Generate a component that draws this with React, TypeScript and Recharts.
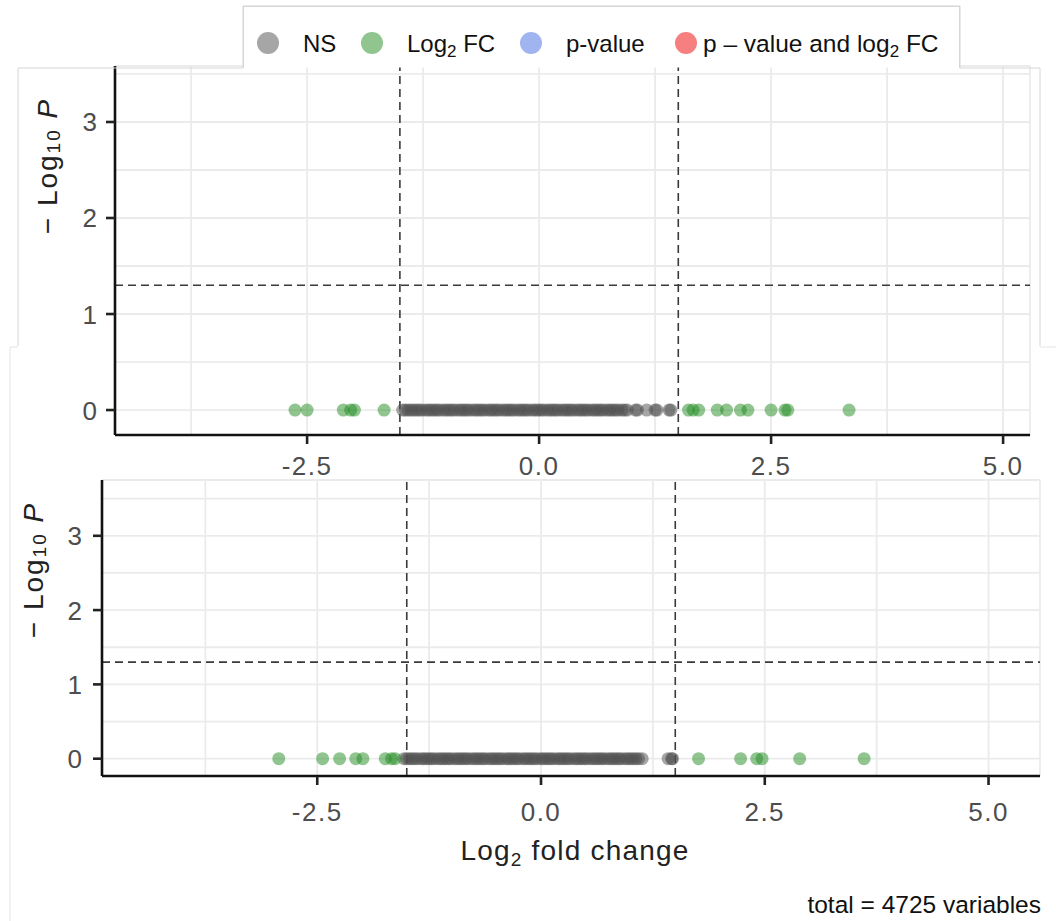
import React from "react";
import { ScatterChart, Scatter, XAxis, YAxis, CartesianGrid, ReferenceLine } from "recharts";

// ---------- data ----------
// axis breaks (major ones get labels, minor ones only grid lines)
const xBreaks = [-3.75, -2.5, -1.25, 0, 1.25, 2.5, 3.75, 5];
const xLabelled = [-2.5, 0, 2.5, 5];
const yBreaks = [0, 0.5, 1, 1.5, 2, 2.5, 3, 3.5];
const yLabelled = [0, 1, 2, 3];
const fcCutoff = 1.5;
const pCutoffLog = 1.3; // -log10(0.05)

// all variables have p ~ 1 -> -log10 P = 0
const logPValue = 0;

// top panel: log2 fold changes
const topNsFC = [
  -1.47, -1.44, -1.41, -1.38, -1.35, -1.32, -1.29, -1.26, -1.22, -1.19, -1.16, -1.13,
  -1.10, -1.07, -1.03, -1.0, -0.97, -0.94, -0.91, -0.87, -0.84, -0.81, -0.78, -0.75,
  -0.71, -0.68, -0.65, -0.62, -0.59, -0.55, -0.52, -0.49, -0.46, -0.43, -0.39, -0.36,
  -0.33, -0.3, -0.27, -0.23, -0.2, -0.17, -0.14, -0.11, -0.07, -0.04, -0.01, 0.02,
  0.05, 0.09, 0.12, 0.15, 0.18, 0.21, 0.25, 0.28, 0.31, 0.34, 0.37, 0.41, 0.44, 0.47,
  0.5, 0.53, 0.57, 0.6, 0.63, 0.66, 0.69, 0.73, 0.76, 0.79, 0.82, 0.85, 0.89, 0.92,
  0.95, 1.04, 1.06, 1.16, 1.25, 1.27, 1.4, 1.42,
];
const topFcFC = [
  -2.63, -2.5, -2.11, -2.03, -1.99, -1.67, 1.61, 1.66, 1.72, 1.92, 2.02, 2.17, 2.25,
  2.5, 2.65, 2.68, 3.34,
];

// bottom panel: log2 fold changes
const bottomNsFC = [
  -1.53, -1.5, -1.47, -1.44, -1.41, -1.38, -1.34, -1.31, -1.28, -1.25, -1.22, -1.19,
  -1.15, -1.12, -1.09, -1.06, -1.03, -1.0, -0.96, -0.93, -0.9, -0.87, -0.84, -0.81,
  -0.77, -0.74, -0.71, -0.68, -0.65, -0.62, -0.58, -0.55, -0.52, -0.49, -0.46, -0.43,
  -0.39, -0.36, -0.33, -0.3, -0.27, -0.24, -0.2, -0.17, -0.14, -0.11, -0.08, -0.05,
  -0.01, 0.02, 0.05, 0.08, 0.11, 0.14, 0.18, 0.21, 0.24, 0.27, 0.3, 0.33, 0.37, 0.4,
  0.43, 0.46, 0.49, 0.52, 0.56, 0.59, 0.62, 0.65, 0.68, 0.71, 0.75, 0.78, 0.81, 0.84,
  0.87, 0.9, 0.94, 0.97, 1.0, 1.03, 1.06, 1.09, 1.13, 1.42, 1.46, 1.47,
];
const bottomFcFC = [
  -2.93, -2.44, -2.25, -2.07, -1.99, -1.74, -1.67, -1.63, 1.76, 2.23, 2.41, 2.47, 2.89,
  3.61,
];

const legendColors = ["#4d4d4d", "#228B22", "#4169E1", "#EE0000"];

const totalLabel = "total = 4725 variables";

// ---------- styling ----------
const FONT = "'Liberation Sans', Arial, Helvetica, sans-serif";
const NS_COLOR = "#4d4d4d";
const FC_COLOR = "#228B22";
const GRID = "#ebebeb";
const TICK_LEN = 9;
const TICK_MARGIN = 2;

const toPoints = (fc: number[]) => fc.map((v) => ({ fc: v, logP: logPValue }));

const dot = (color: string) => (props: any) => (
  <circle cx={props.cx} cy={props.cy} r={6.5} fill={color} fillOpacity={0.5} stroke="none" />
);

const makeXTick = (off: number) => (props: any) => {
  const v = Number(props.payload.value);
  if (!xLabelled.includes(v)) return <g />;
  return (
    <g>
      <line
        x1={props.x}
        x2={props.x}
        y1={props.y - TICK_MARGIN - TICK_LEN}
        y2={props.y - TICK_MARGIN}
        stroke="#222"
        strokeWidth={2.6}
      />
      <text
        x={props.x}
        y={props.y + off}
        textAnchor="middle"
        fontSize={26}
        letterSpacing={1.5}
        fill="#4d4d4d"
        fontFamily={FONT}
      >
        {v.toFixed(1)}
      </text>
    </g>
  );
};

const makeYTick = (dx: number) => (props: any) => {
  const v = Number(props.payload.value);
  if (!yLabelled.includes(v)) return <g />;
  return (
    <g>
      <line
        x1={props.x + TICK_MARGIN}
        x2={props.x + TICK_MARGIN + TICK_LEN}
        y1={props.y}
        y2={props.y}
        stroke="#222"
        strokeWidth={2.6}
      />
      <text
        x={props.x - dx}
        y={props.y + 9.5}
        textAnchor="end"
        fontSize={26}
        fill="#4d4d4d"
        fontFamily={FONT}
      >
        {v}
      </text>
    </g>
  );
};

type PanelProps = {
  width: number;
  height: number;
  margin: { top: number; right: number; bottom: number; left: number };
  xDomain: [number, number];
  yDomain: [number, number];
  ns: number[];
  fc: number[];
  xTickOff: number;
  yTickDx: number;
};

function Panel(p: PanelProps) {
  return (
    <ScatterChart width={p.width} height={p.height} margin={p.margin}>
      <CartesianGrid stroke={GRID} strokeWidth={1.8} />
      <XAxis
        type="number"
        dataKey="fc"
        domain={p.xDomain}
        ticks={xBreaks}
        interval={0}
        allowDataOverflow
        height={40}
        axisLine={{ stroke: "#111", strokeWidth: 2.6 }}
        tickLine={false}
        tickSize={TICK_LEN}
        tickMargin={TICK_MARGIN}
        tick={makeXTick(p.xTickOff)}
      />
      <YAxis
        type="number"
        dataKey="logP"
        domain={p.yDomain}
        ticks={yBreaks}
        interval={0}
        allowDataOverflow
        width={60}
        axisLine={{ stroke: "#111", strokeWidth: 2.6 }}
        tickLine={false}
        tickSize={TICK_LEN}
        tickMargin={TICK_MARGIN}
        tick={makeYTick(p.yTickDx)}
      />
      <Scatter data={toPoints(p.ns)} shape={dot(NS_COLOR)} isAnimationActive={false} />
      <Scatter data={toPoints(p.fc)} shape={dot(FC_COLOR)} isAnimationActive={false} />
      <ReferenceLine x={-fcCutoff} stroke="#3a3a3a" strokeWidth={1.6} strokeDasharray="8 5" />
      <ReferenceLine x={fcCutoff} stroke="#3a3a3a" strokeWidth={1.6} strokeDasharray="8 5" />
      <ReferenceLine y={pCutoffLog} stroke="#3a3a3a" strokeWidth={1.6} strokeDasharray="8 5" />
    </ScatterChart>
  );
}

function YTitle({ cx, cy }: { cx: number; cy: number }) {
  return (
    <text
      transform={`translate(${cx},${cy}) rotate(-90)`}
      textAnchor="middle"
      dominantBaseline="central"
      fontSize={28}
      letterSpacing={2}
      fill="#222"
      fontFamily={FONT}
    >
      <tspan>− Log</tspan>
      <tspan fontSize={19} dy={6}>10</tspan>
      <tspan dy={-6} fontStyle="italic"> P</tspan>
    </text>
  );
}

export default function App() {
  const legendX = [268, 372, 531, 686];
  return (
    <div
      style={{
        position: "absolute",
        left: 0,
        top: 0,
        width: 1056,
        height: 921,
        background: "#fff",
        overflow: "hidden",
        fontFamily: FONT,
      }}
    >
      <div style={{ position: "absolute", left: 0, top: 0 }}>
        <Panel
          width={1056}
          height={480}
          margin={{ top: 66, right: 26, bottom: 5, left: 55 }}
          xDomain={[-4.57, 5.29]}
          yDomain={[-0.26, 3.583]}
          ns={topNsFC}
          fc={topFcFC}
          xTickOff={29}
          yTickDx={7}
        />
      </div>
      <div style={{ position: "absolute", left: 0, top: 440 }}>
        <Panel
          width={1056}
          height={400}
          margin={{ top: 40, right: 16, bottom: 24, left: 42 }}
          xDomain={[-4.905, 5.575]}
          yDomain={[-0.233, 3.751]}
          ns={bottomNsFC}
          fc={bottomFcFC}
          xTickOff={34}
          yTickDx={9}
        />
      </div>
      <svg
        width={1056}
        height={921}
        style={{ position: "absolute", left: 0, top: 0, pointerEvents: "none" }}
      >
        {/* composite frame outlines */}
        <polyline
          points="18,346 18,68 243,68 243,6 960,6 960,68 1040,68 1040,346"
          fill="none"
          stroke="#d6d6d6"
          strokeWidth={1}
        />
        <polyline points="10,921 10,347 18,347" fill="none" stroke="#e4e4e4" strokeWidth={1} />
        <polyline points="1040,347 1056,347" fill="none" stroke="#e4e4e4" strokeWidth={1} />
        {/* legend */}
        <rect x={243.5} y={6.5} width={716} height={61} fill="#fff" stroke="none" />
        <line x1={243.5} y1={6} x2={243.5} y2={68} stroke="#d6d6d6" />
        <line x1={243} y1={6.5} x2={960} y2={6.5} stroke="#d6d6d6" />
        <line x1={959.5} y1={6} x2={959.5} y2={68} stroke="#d6d6d6" />
        {legendColors.map((c, i) => (
          <circle key={c} cx={legendX[i]} cy={43} r={11} fill={c} fillOpacity={0.5} />
        ))}
        <text x={303} y={52} fontSize={24} fill="#111" fontFamily={FONT}>NS</text>
        <text x={407} y={52} fontSize={24} fill="#111" fontFamily={FONT}>
          Log<tspan fontSize={17} dy={5}>2</tspan>
          <tspan dy={-5}> FC</tspan>
        </text>
        <text x={566} y={52} fontSize={24} fill="#111" fontFamily={FONT}>p-value</text>
        <text x={703} y={52} fontSize={24.5} fill="#111" fontFamily={FONT}>
          p – value and log<tspan fontSize={17} dy={5}>2</tspan>
          <tspan dy={-5}> FC</tspan>
        </text>
        {/* axis titles */}
        <YTitle cx={47} cy={166} />
        <YTitle cx={33} cy={570} />
        <text
          x={575}
          y={860}
          textAnchor="middle"
          fontSize={28}
          letterSpacing={1.2}
          fill="#222"
          fontFamily={FONT}
        >
          Log<tspan fontSize={19} dy={6}>2</tspan>
          <tspan dy={-6}> fold change</tspan>
        </text>
        <text x={1041} y={913} textAnchor="end" fontSize={24.5} fill="#111" fontFamily={FONT}>
          {totalLabel}
        </text>
      </svg>
    </div>
  );
}
